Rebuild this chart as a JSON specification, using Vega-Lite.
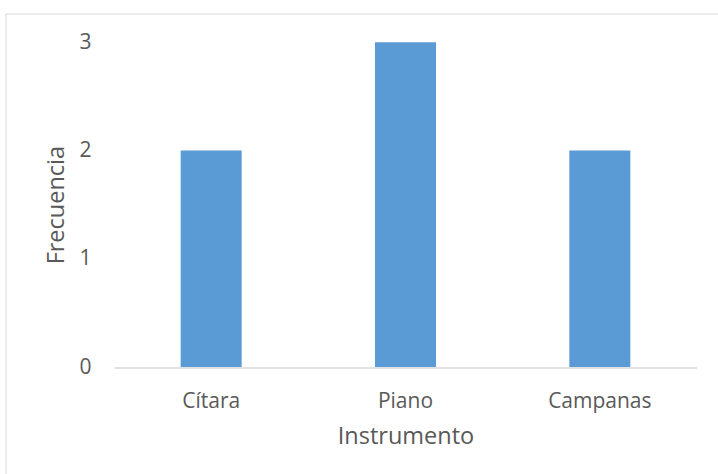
{
  "$schema": "https://vega.github.io/schema/vega-lite/v6.json",
  "width": 713,
  "height": 461,
  "autosize": {"type": "none"},
  "padding": {"left": 5.5, "top": 13.5, "right": 0, "bottom": 0},
  "background": "white",
  "config": {
    "view": {"stroke": "#d9d9d9", "strokeWidth": 1},
    "font": "Open Sans"
  },
  "data": {
    "values": [
      {"instrumento": "Cítara", "frecuencia": 2},
      {"instrumento": "Piano", "frecuencia": 3},
      {"instrumento": "Campanas", "frecuencia": 2}
    ]
  },
  "mark": {"type": "bar", "color": "#5B9BD5"},
  "encoding": {
    "x": {
      "field": "instrumento",
      "type": "nominal",
      "sort": null,
      "title": "Instrumento",
      "scale": {"range": [108.5, 691.5], "paddingInner": 0.686, "paddingOuter": 0.343},
      "axis": {
        "offset": -107,
        "domainColor": "#d9d9d9",
        "domainWidth": 1.5,
        "ticks": false,
        "tickSize": 0,
        "labelPadding": 22.5,
        "labelAngle": 0,
        "labelFontSize": 21,
        "labelColor": "#595959",
        "titleFontSize": 23.5,
        "titleColor": "#595959",
        "titleFontWeight": "normal",
        "titlePadding": 13
      }
    },
    "y": {
      "field": "frecuencia",
      "type": "quantitative",
      "title": "Frecuencia",
      "scale": {"domain": [0, 3], "range": [353.5, 28.8], "nice": false, "zero": true},
      "axis": {
        "values": [0, 1, 2, 3],
        "format": "d",
        "offset": -85.5,
        "domain": false,
        "ticks": false,
        "tickSize": 0,
        "grid": false,
        "labelPadding": 0,
        "labelFontSize": 21,
        "labelColor": "#595959",
        "titleFontSize": 23.5,
        "titleColor": "#595959",
        "titleFontWeight": "normal",
        "titlePadding": 10
      }
    }
  }
}
